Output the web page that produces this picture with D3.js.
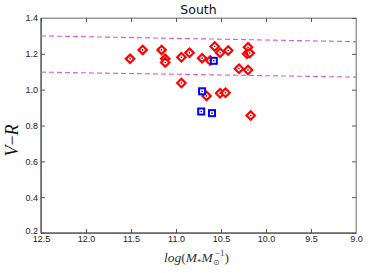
<!DOCTYPE html>
<html lang="en">
<head>
    <meta charset="UTF-8">
    <title>South</title>
    <script src="https://d3js.org/d3.v7.min.js"></script>
    <style>
        html, body {
            margin: 0;
            background: white;
            font-family: "DejaVu Sans", sans-serif;
        }
        .axis text {
            font-size: 9px;
            fill: #222;
        }
    </style>
</head>
<body>
    <div id="vis"></div>
    <script>

        var width = 368
        var height = 273

        var margin = {
            top: 18,
            bottom: 40,
            left: 41,
            right: 12
        };

        // red diamonds
        var redX = [11.51, 11.37, 11.16, 11.12, 11.12, 10.94, 10.94, 10.85, 10.71, 10.62,
                    10.57, 10.51, 10.42, 10.66, 10.51, 10.45, 10.30, 10.20, 10.21, 10.18,
                    10.20, 10.17];
        var redY = [1.172, 1.222, 1.222, 1.172, 1.152, 1.181, 1.037, 1.206, 1.176, 1.163,
                    1.241, 1.206, 1.219, 0.965, 0.980, 0.983, 1.117, 1.237, 1.200, 1.204,
                    1.110, 0.856];

        // blue squares
        var blueX = [10.58, 10.71, 10.72, 10.60];
        var blueY = [1.161, 0.991, 0.878, 0.869];

        // dashed lines: value at x = 12.5 and x = 9.0
        var lineEnds = [[1.300, 1.268], [1.098, 1.070]];

        var xTicks = [12.5, 12.0, 11.5, 11.0, 10.5, 10.0, 9.5, 9.0];
        var yTicks = [0.2, 0.4, 0.6, 0.8, 1.0, 1.2, 1.4];

        var w = width - margin.left - margin.right;
        var h = height - margin.top - margin.bottom;

        var svg = d3.select('#vis')
                    .append('svg')
                        .attr('width', width)
                        .attr('height', height)
                    .append('g')
                        .attr('transform', 'translate(' + margin.left + ',' + margin.top + ')');

        var x = d3.scaleLinear().domain([12.5, 9.0]).range([0, w]);
        var y = d3.scaleLinear().domain([0.2, 1.4]).range([h, 0]);

        // frame
        svg.append('rect')
            .attr('width', w)
            .attr('height', h)
            .attr('fill', 'none')
            .attr('stroke', '#999')
            .attr('stroke-width', 1);

        // axes with inward ticks
        var fmt = d3.format('.1f');
        svg.append('g').attr('class', 'axis')
            .attr('transform', 'translate(0,' + h + ')')
            .call(d3.axisBottom(x).tickValues(xTicks).tickFormat(fmt).tickSizeInner(-4).tickSizeOuter(0).tickPadding(3));
        svg.append('g').attr('class', 'axis yaxis')
            .call(d3.axisLeft(y).tickValues(yTicks).tickFormat(fmt).tickSizeInner(-4).tickSizeOuter(0).tickPadding(3));
        svg.append('g').attr('class', 'axis')
            .call(d3.axisTop(x).tickValues(xTicks).tickFormat('').tickSizeInner(-4).tickSizeOuter(0));
        svg.append('g').attr('class', 'axis')
            .attr('transform', 'translate(' + w + ',0)')
            .call(d3.axisRight(y).tickValues(yTicks).tickFormat('').tickSizeInner(-4).tickSizeOuter(0));

        // nudge lowest y label up so it clears 12.5
        svg.selectAll('.yaxis .tick text')
            .filter(function(d){ return d === 0.2; })
            .attr('dy', '0.05em');

        svg.selectAll('.axis .domain').attr('stroke', '#999');
        svg.selectAll('.axis line').attr('stroke', '#555');
        // darker left and bottom spines
        svg.append('line').attr('x1', 0).attr('x2', 0).attr('y1', 0).attr('y2', h)
            .attr('stroke', '#444');
        svg.append('line').attr('x1', 0).attr('x2', w).attr('y1', h).attr('y2', h)
            .attr('stroke', '#444');

        // dashed lines
        svg.selectAll('.dline')
            .data(lineEnds)
            .enter()
            .append('line')
            .attr('class', 'dline')
            .attr('x1', x(12.5))
            .attr('x2', x(9.0))
            .attr('y1', function(d){ return y(d[0]); })
            .attr('y2', function(d){ return y(d[1]); })
            .attr('stroke', '#d65ad6')
            .attr('stroke-width', 1.1)
            .attr('stroke-dasharray', '5,3');

        var red = redX.map(function(v, i){ return {x: v, y: redY[i]}; });
        var blue = blueX.map(function(v, i){ return {x: v, y: blueY[i]}; });

        // diamonds
        svg.selectAll('.dia')
            .data(red)
            .enter()
            .append('path')
            .attr('class', 'dia')
            .attr('d', 'M0,-4.2L4.2,0L0,4.2L-4.2,0Z')
            .attr('transform', function(d){ return 'translate(' + x(d.x) + ',' + y(d.y) + ')'; })
            .attr('fill', 'white')
            .attr('stroke', '#ff0000')
            .attr('stroke-width', 2.2);

        // squares
        svg.selectAll('.sq')
            .data(blue)
            .enter()
            .append('rect')
            .attr('class', 'sq')
            .attr('x', function(d){ return x(d.x) - 3; })
            .attr('y', function(d){ return y(d.y) - 3; })
            .attr('width', 6)
            .attr('height', 6)
            .attr('fill', 'white')
            .attr('stroke', '#0000ff')
            .attr('stroke-width', 2);

        // center dots
        svg.selectAll('.dot')
            .data(red.concat(blue))
            .enter()
            .append('circle')
            .attr('class', 'dot')
            .attr('cx', function(d){ return x(d.x); })
            .attr('cy', function(d){ return y(d.y); })
            .attr('r', 0.8)
            .attr('fill', 'black');

        // title
        svg.append('text')
            .attr('x', w / 2)
            .attr('y', -4)
            .attr('text-anchor', 'middle')
            .attr('font-size', '12.5px')
            .attr('fill', '#111')
            .text('South');

        // y label
        var yl = svg.append('text')
            .attr('transform', 'translate(-23,' + (h / 2 + 15) + ')rotate(-90)')
            .attr('text-anchor', 'middle')
            .attr('font-family', '"Liberation Serif", serif')
            .attr('font-style', 'italic')
            .attr('font-size', '18px')
            .attr('fill', '#111');
        yl.append('tspan').text('V');
        yl.append('tspan').attr('font-style', 'normal').text('\u2212');
        yl.append('tspan').text('R');

        // x label
        var xl = svg.append('text')
            .attr('x', w / 2 - 2)
            .attr('y', h + 29)
            .attr('text-anchor', 'middle')
            .attr('font-family', '"Liberation Serif", serif')
            .attr('font-style', 'italic')
            .attr('font-size', '13.5px')
            .attr('fill', '#333');
        xl.append('tspan').text('log');
        xl.append('tspan').attr('font-style', 'normal').text('(');
        xl.append('tspan').text('M');
        xl.append('tspan').attr('font-size', '9px').attr('dy', 3).attr('font-style', 'normal').text('*');
        xl.append('tspan').attr('dy', -3).text('M');
        xl.append('tspan').attr('font-size', '8px').attr('dy', 3).attr('font-style', 'normal').text('\u2299');
        xl.append('tspan').attr('font-size', '9px').attr('dy', -9).attr('dx', -5).attr('font-style', 'normal').text('\u22121');
        xl.append('tspan').attr('dy', 6).attr('font-style', 'normal').text(')');

    </script>
</body>
</html>
